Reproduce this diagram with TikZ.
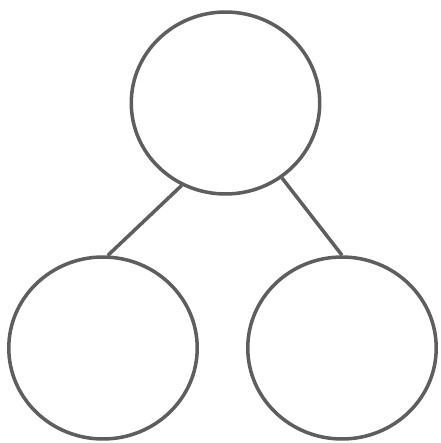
\documentclass[tikz,border=0pt]{standalone}
\usetikzlibrary{positioning, shapes.geometric}
\definecolor{cgrey}{HTML}{5E5E5E}
\tikzset{
  every picture/.style={line width=2pt},
  bubble/.style={draw=cgrey, ellipse, minimum width=3.77cm, minimum height=3.64cm, inner sep=0pt},
  link/.style={draw=cgrey, line width=2pt},
}
\begin{document}
\begin{tikzpicture}[x=0.02cm, y=-0.02cm]
  \useasboundingbox (0,0) rectangle (440,443);

  % ---- tree of three bubbles
  \node[bubble] (root)  at (225.5,103) {};
  \node[bubble] (left)  at (103,348)   {};
  \node[bubble] (right) at (342,348)   {};

  \draw[link] (root.242) -- (left.87);
  \draw[link] (root.307) -- (right.90);
\end{tikzpicture}
\end{document}
